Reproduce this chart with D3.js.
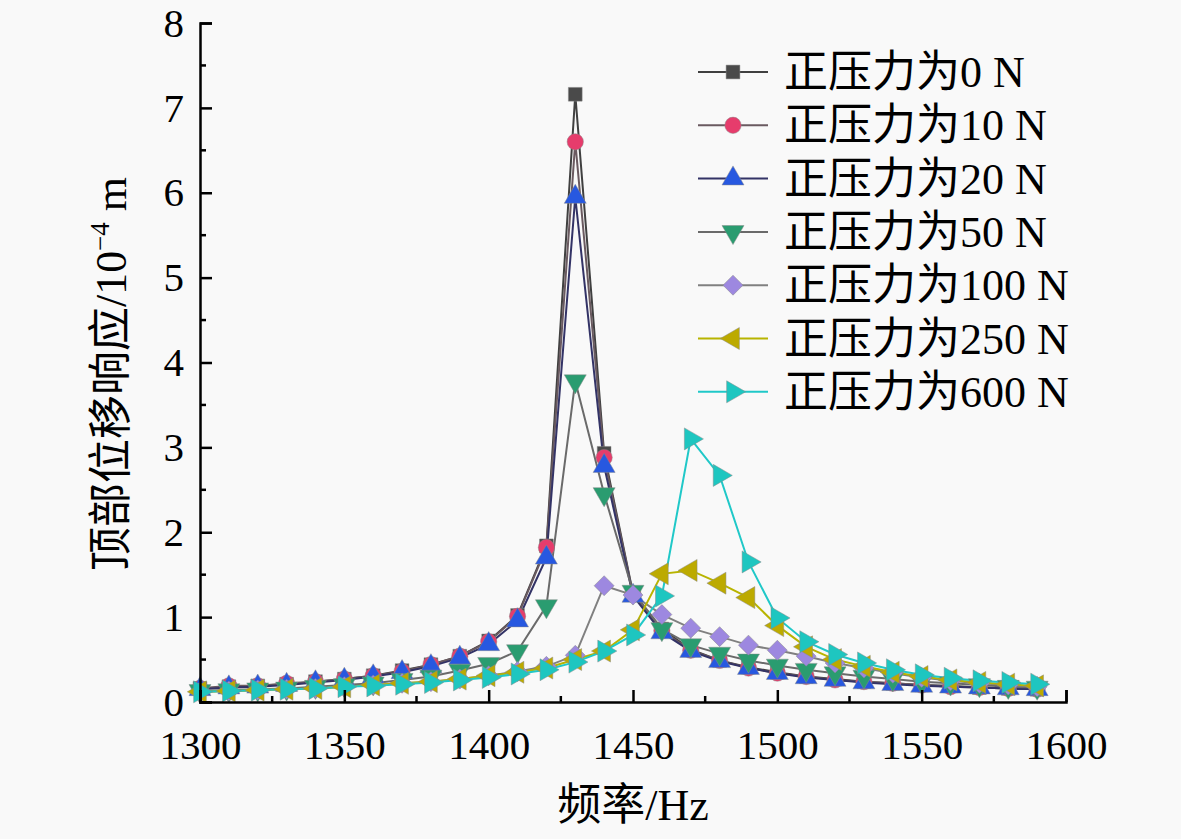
<!DOCTYPE html>
<html><head><meta charset="utf-8">
<script src="https://cdn.jsdelivr.net/npm/d3@7"></script>
<style>
html,body{margin:0;padding:0;background:#f9f9f9;}
svg{display:block;}
text{font-family:"Liberation Serif","Times New Roman","Noto Sans CJK SC",serif;fill:#000;}
</style></head>
<body>
<svg id="chart" width="1181" height="839"></svg>
<script>
const freqs = [1300,1310,1320,1330,1340,1350,1360,1370,1380,1390,1400,1410,1420,1430,1440,1450,1460,1470,1480,1490,1500,1510,1520,1530,1540,1550,1560,1570,1580,1590];
const xTicks = [1300,1350,1400,1450,1500,1550,1600];
const yTicks = [0,1,2,3,4,5,6,7,8];
const seriesNames = ["正压力为0 N","正压力为10 N","正压力为20 N","正压力为50 N","正压力为100 N","正压力为250 N","正压力为600 N"];
const s0   = [0.16,0.18,0.19,0.21,0.24,0.27,0.31,0.37,0.44,0.54,0.72,1.02,1.84,7.16,2.93,1.28,0.86,0.62,0.49,0.41,0.35,0.30,0.27,0.24,0.22,0.20,0.19,0.17,0.16,0.15];
const s10  = [0.16,0.19,0.19,0.22,0.24,0.27,0.31,0.36,0.44,0.54,0.71,1.01,1.82,6.60,2.88,1.27,0.84,0.61,0.49,0.40,0.34,0.30,0.26,0.24,0.22,0.20,0.18,0.17,0.16,0.15];
const s20  = [0.15,0.17,0.18,0.20,0.23,0.26,0.30,0.35,0.42,0.52,0.68,0.96,1.70,5.95,2.78,1.25,0.82,0.60,0.48,0.40,0.34,0.29,0.26,0.23,0.21,0.19,0.18,0.17,0.16,0.15];
const s50  = [0.13,0.14,0.15,0.16,0.18,0.20,0.22,0.26,0.30,0.37,0.45,0.60,1.13,3.78,2.45,1.30,0.86,0.67,0.57,0.49,0.43,0.38,0.34,0.30,0.27,0.24,0.22,0.20,0.18,0.17];
const s100 = [0.12,0.13,0.14,0.15,0.16,0.18,0.20,0.22,0.24,0.27,0.31,0.36,0.42,0.55,1.37,1.26,1.03,0.87,0.77,0.67,0.61,0.54,0.46,0.40,0.34,0.29,0.25,0.22,0.20,0.18];
const s250 = [0.12,0.13,0.14,0.15,0.16,0.18,0.20,0.22,0.24,0.27,0.31,0.35,0.40,0.50,0.60,0.85,1.51,1.55,1.40,1.23,0.90,0.65,0.50,0.42,0.35,0.30,0.26,0.23,0.21,0.19];
const s600 = [0.12,0.13,0.14,0.15,0.16,0.18,0.19,0.21,0.23,0.26,0.29,0.33,0.38,0.47,0.60,0.79,1.25,3.10,2.67,1.65,0.99,0.71,0.56,0.46,0.38,0.32,0.28,0.25,0.23,0.21];
const allValues = [s0,s10,s20,s50,s100,s250,s600];
const markerColors = ["#4a4a4a","#e63c6c","#2758e0","#2a9c70","#9d88e0","#bcaa00","#1ec6c0"];
const lineColors   = ["#404040","#6a5a60","#333366","#6a6a6a","#808080","#b8b400","#20c8c8"];
const symbols = [d3.symbolSquare, d3.symbolCircle, d3.symbolTriangle, d3.symbolTriangle, d3.symbolSquare, d3.symbolTriangle, d3.symbolTriangle];
const rotations = [0,0,0,180,45,-90,90];
const symSizes = [190,210,210,210,200,210,210];

const svg = d3.select("#chart");
const W = 1181, H = 839;
svg.append("rect").attr("width",W).attr("height",H).attr("fill","#f9f9f9");
const m = {left:200, right:1066, top:23, bottom:702};
const x = d3.scaleLinear().domain([1300,1600]).range([m.left,m.right]);
const y = d3.scaleLinear().domain([0,8]).range([m.bottom,m.top]);

const series = seriesNames.map((n,i)=>({name:n, vals:freqs.map((f,j)=>({f, v:allValues[i][j]})), i}));

const g = svg.append("g");
const line = d3.line().x(d=>x(d.f)).y(d=>y(d.v));
series.forEach(s=>{
  g.append("path").datum(s.vals).attr("d",line).attr("fill","none")
   .attr("stroke",lineColors[s.i]).attr("stroke-width",2);
});
series.forEach(s=>{
  const sym = d3.symbol().type(symbols[s.i]).size(symSizes[s.i]);
  g.selectAll(null).data(s.vals).enter().append("path")
   .attr("d",sym)
   .attr("transform",d=>`translate(${x(d.f)},${y(d.v)}) rotate(${rotations[s.i]})`)
   .attr("fill",markerColors[s.i]).attr("stroke","#888").attr("stroke-width",0.8).attr("stroke-opacity",0.6);
});

// axes
const xAxis = d3.axisBottom(x).tickValues(xTicks).tickSize(-12).tickPadding(28).tickFormat(d3.format("d"));
const xg = svg.append("g").attr("transform",`translate(0,${m.bottom})`).call(xAxis);
const yAxis = d3.axisLeft(y).tickValues(yTicks).tickSize(-12).tickPadding(16);
const yg = svg.append("g").attr("transform",`translate(${m.left},0)`).call(yAxis);
[xg,yg].forEach(a=>{
  a.select(".domain").attr("stroke","#000").attr("stroke-width",2.5);
  a.selectAll(".tick line").attr("stroke","#000").attr("stroke-width",2.5);
  a.selectAll(".tick text").attr("font-size",41).attr("font-family",'"Liberation Serif","Times New Roman",serif');
});
// minor ticks
const xMinor = d3.range(1325,1600,50);
svg.append("g").selectAll("line").data(xMinor).enter().append("line")
  .attr("x1",d=>x(d)).attr("x2",d=>x(d)).attr("y1",m.bottom).attr("y2",m.bottom-6)
  .attr("stroke","#000").attr("stroke-width",2.5);
const yMinor = d3.range(0.5,8,1);
svg.append("g").selectAll("line").data(yMinor).enter().append("line")
  .attr("x1",m.left).attr("x2",m.left+6).attr("y1",d=>y(d)).attr("y2",d=>y(d))
  .attr("stroke","#000").attr("stroke-width",2.5);

// axis titles
svg.append("text").attr("x",633).attr("y",820).attr("text-anchor","middle").attr("font-size",44)
  .text("频率/Hz");
const yt = svg.append("text").attr("transform","translate(126,374) rotate(-90)").attr("text-anchor","middle").attr("font-size",44);
yt.append("tspan").text("顶部位移响应/10");
yt.append("tspan").attr("font-size",27).attr("dy",-17).text("−4");
yt.append("tspan").attr("dy",17).text(" m");

// legend
const lg = svg.append("g");
series.forEach((s,k)=>{
  const cy = 72 + k*53.3;
  lg.append("line").attr("x1",698).attr("x2",768).attr("y1",cy).attr("y2",cy)
    .attr("stroke",lineColors[s.i]).attr("stroke-width",2);
  lg.append("path").attr("d",d3.symbol().type(symbols[s.i]).size(symSizes[s.i])())
    .attr("transform",`translate(733,${cy}) rotate(${rotations[s.i]})`)
    .attr("fill",markerColors[s.i]).attr("stroke","#888").attr("stroke-width",0.8).attr("stroke-opacity",0.6);
  lg.append("text").attr("x",784).attr("y",cy+15).attr("font-size",44).text(s.name);
});
</script>
</body></html>
